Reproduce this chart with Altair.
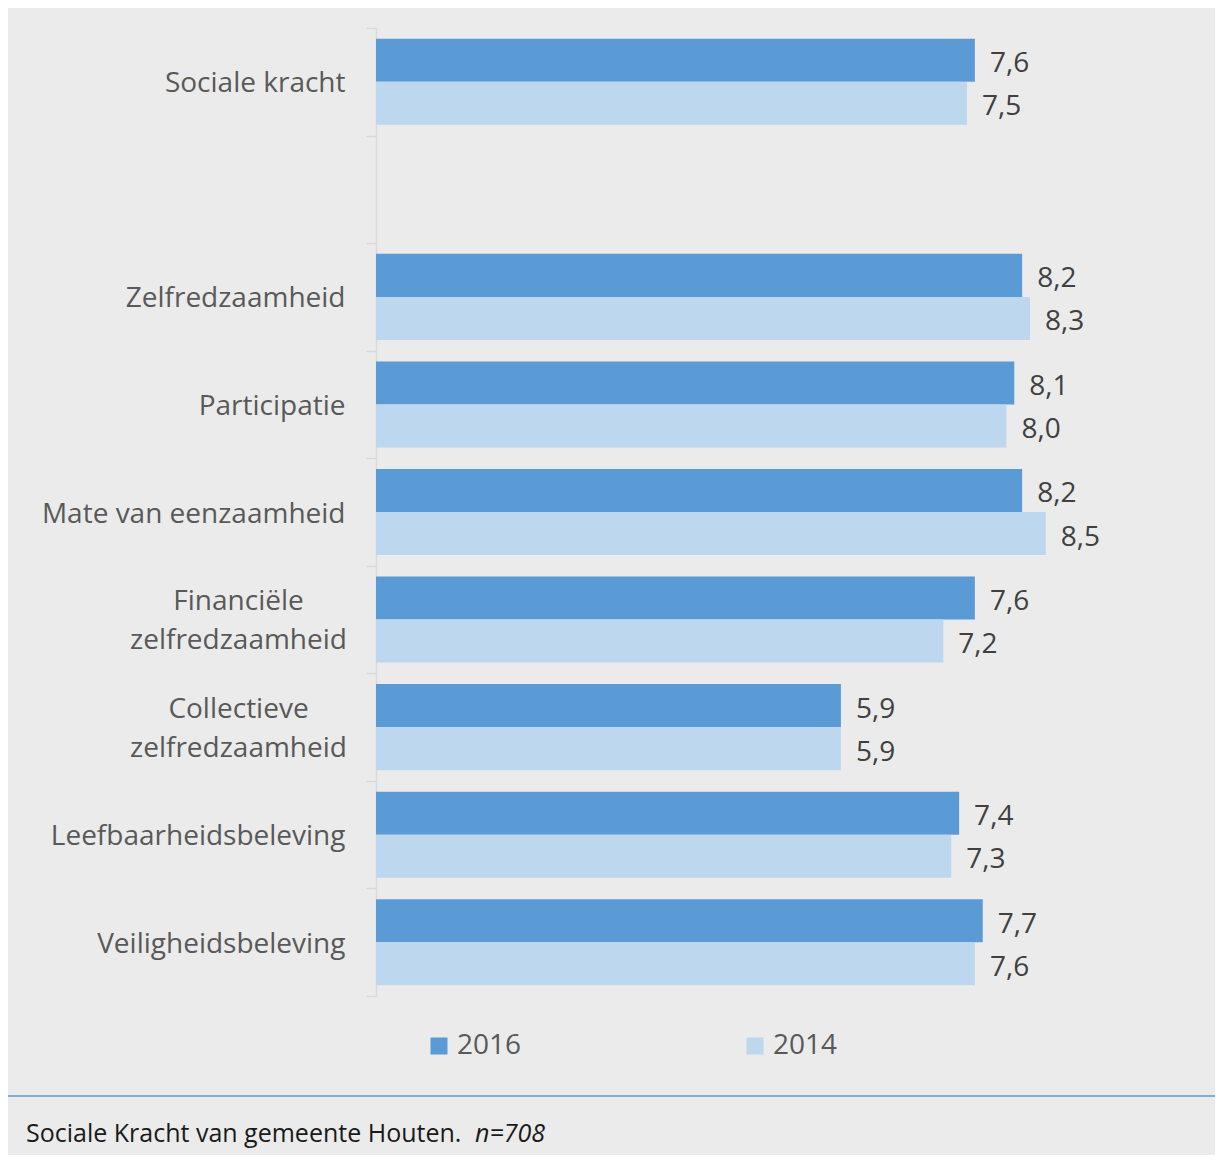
import altair as alt
import pandas as pd

categories = ["Sociale kracht", " ", "Zelfredzaamheid", "Participatie", "Mate van eenzaamheid",
              "Financiële|zelfredzaamheid", "Collectieve|zelfredzaamheid",
              "Leefbaarheidsbeleving", "Veiligheidsbeleving"]
data_categories = [c for c in categories if c.strip()]
values_2016 = [7.6, 8.2, 8.1, 8.2, 7.6, 5.9, 7.4, 7.7]
values_2014 = [7.5, 8.3, 8.0, 8.5, 7.2, 5.9, 7.3, 7.6]
years = ["2016", "2014"]
colors = ["#5b9bd5", "#bdd7ee"]
caption_main = "Sociale Kracht van gemeente Houten."
caption_n = "n=708"

FONT = "Open Sans"

rows = []
for c, a, b in zip(data_categories, values_2016, values_2014):
    rows.append({"cat": c, "year": "2016", "value": a})
    rows.append({"cat": c, "year": "2014", "value": b})
df = pd.DataFrame(rows)

multi = "indexof(datum.label, '|') >= 0"

y_enc = alt.Y(
    "cat:N",
    title=None,
    scale=alt.Scale(domain=categories, paddingInner=0, paddingOuter=0),
    axis=alt.Axis(
        domainColor="#d9d9d9", domainWidth=1.5,
        tickColor="#d9d9d9", tickWidth=1.5, tickSize=10, tickBand="extent",
        labelFont=FONT, labelFontSize=28, labelColor="#595959",
        labelExpr="split(datum.label, '|')",
        labelLineHeight=39, labelBaseline="middle", labelLimit=500,
        labelAlign={"condition": {"test": multi, "value": "center"}, "value": "right"},
        labelPadding={"condition": {"test": multi, "value": 128}, "value": 21},
        labelOffset={"condition": {"test": multi, "value": -18}, "value": 2},
        grid=False,
    ),
)
yoff = alt.YOffset("year:N", scale=alt.Scale(domain=years, paddingInner=0, paddingOuter=0.25))
x_enc = alt.X("value:Q", scale=alt.Scale(domain=[0, 10]), axis=None)
color = alt.Color(
    "year:N",
    scale=alt.Scale(domain=years, range=colors),
    legend=alt.Legend(
        title=None, orient="none", legendX=49, legendY=1004, direction="horizontal",
        symbolType="square", symbolSize=289, symbolStrokeWidth=0,
        labelFont=FONT, labelFontSize=28, labelColor="#595959", labelOffset=4,
        columnPadding=219,
    ),
)

base = alt.Chart(df)
bars = base.mark_bar().encode(x=x_enc, y=y_enc, yOffset=yoff, color=color)
labels = base.transform_calculate(
    lbl="replace(format(datum.value, '.1f'), '.', ',')"
).mark_text(align="left", baseline="middle", dx=15, dy=4, font=FONT, fontSize=28,
            color="#404040").encode(
    x=x_enc, y=y_enc, yOffset=yoff, text="lbl:N"
)

cap_df = pd.DataFrame([{"main": caption_main, "n": caption_n}])
sep = alt.Chart(cap_df).mark_rule(color="#5b9bd5", strokeWidth=1.5).encode(
    x=alt.value(-370), x2=alt.value(850), y=alt.value(1068)
)
cap1 = alt.Chart(cap_df).mark_text(align="left", baseline="alphabetic", font=FONT, fontSize=25,
                                   color="#1a1a1a").encode(
    x=alt.value(-350), y=alt.value(1114), text="main:N"
)
cap2 = alt.Chart(cap_df).mark_text(align="left", baseline="alphabetic", font=FONT, fontSize=25,
                                   fontStyle="italic", color="#1a1a1a").encode(
    x=alt.value(99), y=alt.value(1114), text="n:N"
)

chart = alt.layer(bars, labels, sep, cap1, cap2).properties(
    width=788, height=968,
    background="#ebebeb",
    padding={"left": 368, "top": 20, "right": 51, "bottom": 159},
    autosize=alt.AutoSizeParams(type="none"),
).configure_view(stroke=None)

chart.save("out.html", embed_options={"renderer": "svg", "actions": False})
